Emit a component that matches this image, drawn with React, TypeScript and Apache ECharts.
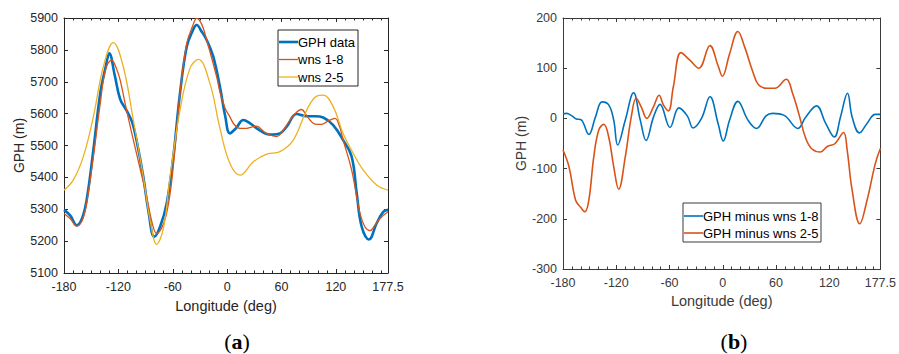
import React, { useEffect, useRef } from "react";
import * as echarts from "echarts";

// ---------- Data ----------
const xTickInterval = 60;
const lonMin = -180;
const lonMax = 177.5;

// (a) GPH data and the two wave-number reconstructions
const lonGph = [-180, -173, -166, -160, -155, -147.6, -140, -134, -130, -124, -118, -111, -105, -100, -92.5, -87, -80.3, -74, -66.7, -59.4, -52, -44.6, -38, -33.6, -28, -22.6, -15.3, -8, -2, 3, 10, 17.8, 25, 32.6, 43.6, 50, 58.3, 65.7, 76.7, 87.8, 97, 106, 117, 128, 137.4, 143, 148.5, 156.5, 165, 172.3, 177.5];
const gphData = [5298, 5280, 5250, 5272, 5329, 5486, 5664, 5747, 5789, 5720, 5645, 5610, 5575, 5517, 5402, 5297, 5214, 5245, 5318, 5465, 5664, 5810, 5860, 5878, 5857, 5831, 5779, 5685, 5590, 5538, 5555, 5580, 5570, 5554, 5536, 5534, 5538, 5559, 5599, 5592, 5592, 5588, 5564, 5517, 5465, 5350, 5245, 5205, 5256, 5292, 5298];

const lonW18 = [-180, -173, -166, -160, -155, -147.6, -140, -134, -127.4, -122, -118, -111, -100, -88.8, -83, -77.7, -70, -64, -59.4, -52, -44.6, -38, -33.6, -28, -22.6, -11.6, -8, -2, 3, 8, 14.2, 21.6, 27, 32.6, 38, 43.6, 54.7, 60, 65.7, 75, 82.2, 87, 91.4, 97, 104, 112, 119, 124, 128, 137.4, 146.6, 152, 157.6, 163, 168.7, 177.5];
const wns18 = [5287, 5270, 5247, 5265, 5320, 5465, 5632, 5740, 5768, 5740, 5705, 5611, 5475, 5339, 5260, 5224, 5256, 5330, 5434, 5664, 5820, 5875, 5899, 5880, 5831, 5716, 5669, 5615, 5590, 5565, 5554, 5554, 5558, 5561, 5550, 5538, 5528, 5540, 5564, 5600, 5613, 5597, 5580, 5567, 5566, 5578, 5585, 5560, 5517, 5423, 5287, 5245, 5233, 5250, 5271, 5292];

const lonW25 = [-180, -169.7, -158.7, -147.6, -136.6, -125.6, -114.6, -103.5, -92.5, -85, -77.7, -70, -63, -52, -41, -31.8, -19, -8, 3, 14.2, 28.9, 43.6, 58.3, 73, 87.8, 98.8, 106, 117, 128, 139.2, 150.2, 165, 177.5];
const wns25 = [5360, 5392, 5465, 5590, 5747, 5823, 5747, 5580, 5402, 5266, 5190, 5245, 5402, 5611, 5742, 5770, 5695, 5555, 5444, 5407, 5449, 5473, 5481, 5517, 5611, 5655, 5658, 5622, 5538, 5475, 5423, 5376, 5360];

// (b) differences
const lonD18 = [-180, -176, -170, -165, -159.4, -150.9, -143.4, -136, -128.5, -122.9, -118.4, -109.8, -100.5, -93, -86.4, -78, -70.7, -59.5, -49.5, -40, -33.4, -24, -14.4, -5.3, 0.5, 7.7, 17, 28.2, 38, 48.7, 56.2, 69.2, 84.5, 93.5, 105.6, 115.9, 125.6, 132.6, 140.5, 145.7, 154, 162.5, 171.8, 177.5];
const diff18 = [9, 10, 5, -1, -3, -32, 3, 33, 27, -3, -53, -3, 51, -3, -44, 3, 28, -18, 21, 5, -19, 0, 43, -10, -45, -3, 34, -3, -20, 5, 10, 6, -20, 3, 25, -10, -37, 3, 50, 3, -29, -10, 8, 8];

const lonD25 = [-180, -173.3, -165.8, -160.2, -155.4, -150.9, -145.3, -139.7, -134.1, -128.5, -122.9, -117.3, -109.8, -103.1, -97.5, -91.9, -85.6, -78.1, -71.7, -66.9, -61.3, -55.7, -47.1, -37.1, -27, -14.5, -5.3, -0.5, 7.7, 17, 24.5, 33.8, 40.2, 50, 58.5, 71.5, 78.6, 85.5, 93.5, 100.5, 110, 117.7, 126.5, 136, 140.1, 145.7, 154.3, 162.5, 171.8, 177.5];
const diff25 = [-63, -96, -163, -177, -186, -163, -76, -23, -12, -37, -96, -141, -76, 3, 40, 23, 0, 23, 46, 27, 15, 63, 131, 116, 100, 145, 105, 84, 129, 173, 143, 93, 67, 60, 60, 78, 50, 10, -40, -61, -67, -56, -50, -28, -63, -143, -210, -163, -90, -60];

const legendA = ["GPH data", "wns 1-8", "wns 2-5"];
const legendB = ["GPH minus wns 1-8", "GPH minus wns 2-5"];

const BLUE = "#0072BD";
const ORANGE = "#D95319";
const YELLOW = "#EDB120";

const zip = (xs: number[], ys: number[]) => xs.map((x, i) => [x, ys[i]]);

export default function App() {
  const ref = useRef<HTMLDivElement>(null);

  useEffect(() => {
    if (!ref.current) return;
    const chart = echarts.init(ref.current, undefined, { renderer: "svg" });
    const font = "Arial, 'Liberation Sans', Helvetica, sans-serif";
    const axColA = "#262626";
    const axColB = "#3a3a3a";

    const xAxes = (grid: number, col: string, nameGap: number) => [
      {
        type: "value", gridIndex: grid, position: "bottom", min: lonMin, max: lonMax, interval: xTickInterval,
        axisLine: { show: true, onZero: false, lineStyle: { color: col, width: 1 } },
        axisTick: { show: true, inside: true, length: 4, lineStyle: { color: col } },
        minorTick: { show: true, splitNumber: 6, length: 2.5, lineStyle: { color: col } },
        axisLabel: { color: col, fontSize: 12.5, fontFamily: font, margin: 7, formatter: (v: number) => String(v) },
        splitLine: { show: false },
        name: "Longitude (deg)", nameLocation: "middle", nameGap,
        nameTextStyle: { color: col, fontSize: 14.5, fontFamily: font },
      },
      {
        type: "value", gridIndex: grid, position: "top", min: lonMin, max: lonMax, interval: xTickInterval,
        axisLine: { show: true, onZero: false, lineStyle: { color: col, width: 1 } },
        axisTick: { show: true, inside: true, length: 4, lineStyle: { color: col } },
        minorTick: { show: true, splitNumber: 6, length: 2.5, lineStyle: { color: col } },
        axisLabel: { show: false },
        splitLine: { show: false },
      },
    ];

    const yAxes = (grid: number, col: string, min: number, max: number, interval: number, nameGap: number) => [
      {
        type: "value", gridIndex: grid, position: "left", min, max, interval,
        axisLine: { show: true, onZero: false, lineStyle: { color: col, width: 1 } },
        axisTick: { show: true, inside: true, length: 4, lineStyle: { color: col } },
        axisLabel: { color: col, fontSize: 12.5, fontFamily: font, margin: 6, formatter: (v: number) => String(v) },
        splitLine: { show: false },
        name: "GPH (m)", nameLocation: "middle", nameGap,
        nameTextStyle: { color: col, fontSize: 14, fontFamily: font },
      },
      {
        type: "value", gridIndex: grid, position: "right", min, max, interval,
        axisLine: { show: true, onZero: false, lineStyle: { color: col, width: 1 } },
        axisTick: { show: true, inside: true, length: 4, lineStyle: { color: col } },
        axisLabel: { show: false },
        splitLine: { show: false },
      },
    ];

    const line = (name: string, xi: number, yi: number, data: number[][], color: string, width: number) => ({
      type: "line", name, xAxisIndex: xi, yAxisIndex: yi, data, smooth: 0.4,
      symbol: "none", showSymbol: false, clip: true,
      lineStyle: { color, width }, itemStyle: { color },
    });

    const legendBox = (x: number, y: number, w: number, h: number, labels: string[], colors: string[], widths: number[], rowY: number[], col: string) => {
      const els: any[] = [
        { type: "rect", shape: { x, y, width: w, height: h }, style: { fill: "#fff", stroke: col, lineWidth: 1 }, z: 100 },
      ];
      labels.forEach((lab, i) => {
        els.push({ type: "line", shape: { x1: x + 1, y1: rowY[i], x2: x + 20, y2: rowY[i] }, style: { stroke: colors[i], lineWidth: widths[i] }, z: 101 });
        els.push({ type: "text", x: x + 20, y: rowY[i], style: { text: lab, fill: "#000", font: `13px ${font}`, textVerticalAlign: "middle", textAlign: "left" }, z: 101 });
      });
      return els;
    };

    const serif = "'Liberation Serif', 'DejaVu Serif', serif";
    const caption = (cx: number, cy: number, letter: string) => ({
      type: "text", x: cx, y: cy,
      style: {
        text: "{p|(}{b|" + letter + "}{p|)}",
        textAlign: "center", textVerticalAlign: "middle",
        rich: {
          p: { fontFamily: serif, fontSize: 22, fill: "#000", color: "#000" },
          b: { fontFamily: serif, fontSize: 22, fontWeight: "bold", fill: "#000", color: "#000" },
        },
      },
    });

    chart.setOption({
      animation: false,
      backgroundColor: "#fff",
      grid: [
        { left: 64, top: 18, width: 324, height: 255, containLabel: false },
        { left: 563, top: 18, width: 320, height: 251, containLabel: false },
      ],
      xAxis: [...xAxes(0, axColA, 25), ...xAxes(1, axColB, 24)],
      yAxis: [...yAxes(0, axColA, 5100, 5900, 100, 35), ...yAxes(1, axColB, -300, 200, 100, 31)],
      series: [
        line(legendA[0], 0, 0, zip(lonGph, gphData), BLUE, 2.6),
        line(legendA[1], 0, 0, zip(lonW18, wns18), ORANGE, 1.3),
        line(legendA[2], 0, 0, zip(lonW25, wns25), YELLOW, 1.3),
        line(legendB[0], 2, 2, zip(lonD18, diff18), BLUE, 1.6),
        line(legendB[1], 2, 2, zip(lonD25, diff25), ORANGE, 1.6),
      ],
      graphic: [
        ...legendBox(278, 30, 80, 56, legendA, [BLUE, ORANGE, YELLOW], [2.6, 1.3, 1.3], [42, 59.5, 77], axColA),
        ...legendBox(683, 203, 138, 39, legendB, [BLUE, ORANGE], [1.6, 1.6], [216, 233], axColB),
        caption(237, 341, "a"),
        caption(734, 341, "b"),
      ],
    });

    return () => chart.dispose();
  }, []);

  return (
    <div
      ref={ref}
      style={{ position: "absolute", left: 0, top: 0, width: 899, height: 354, background: "#fff" }}
    />
  );
}
